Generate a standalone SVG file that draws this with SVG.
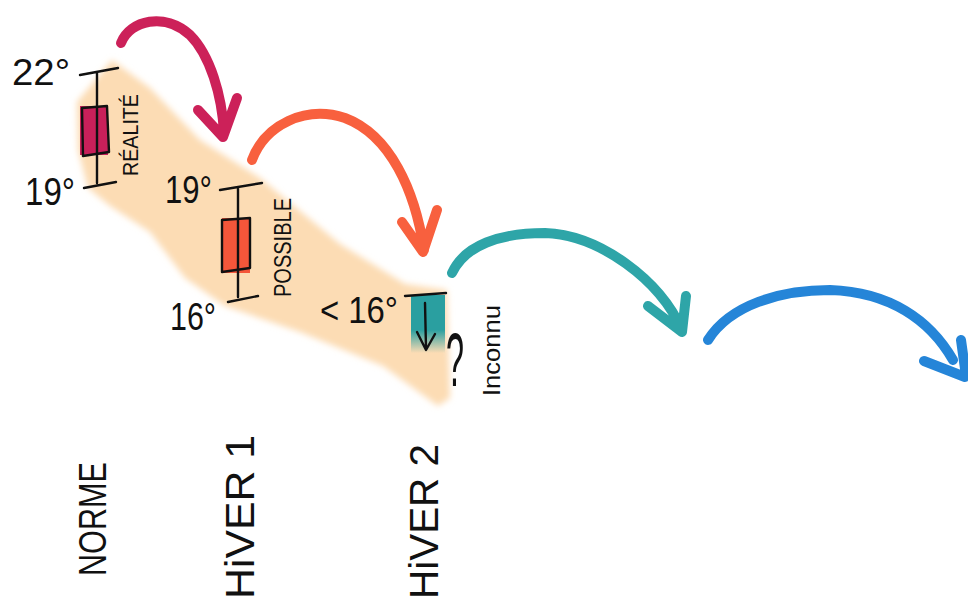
<svg xmlns="http://www.w3.org/2000/svg" width="968" height="601" viewBox="0 0 968 601">
<defs>
<style>
.t{font-family:"Liberation Sans","DejaVu Sans",sans-serif;fill:#111;}
.ink{fill:none;stroke:#111;stroke-width:2.4;stroke-linecap:round;stroke-linejoin:round;}
.arr{fill:none;stroke-width:10;stroke-linecap:round;stroke-linejoin:round;}
</style>
<filter id="soft" x="-10%" y="-10%" width="120%" height="120%"><feGaussianBlur stdDeviation="3"/></filter>
<linearGradient id="tealfade" x1="0" y1="0" x2="0" y2="1">
<stop offset="0" stop-color="#2a9fa0"/>
<stop offset="0.6" stop-color="#2a9fa0"/>
<stop offset="1" stop-color="#2a9fa0" stop-opacity="0"/>
</linearGradient>
</defs>
<rect width="968" height="601" fill="#ffffff"/>
<path d="M112,60 L150,88 L200,140 L260,178 L340,244 L405,284 L447,290 L450,398 L438,406 L383,366 L300,332 L225,306 L185,278 L150,232 L110,206 L88,188 L78,150 L77,102 Z" fill="#fcdcb4" filter="url(#soft)"/>
<g id="norme">
<rect x="80" y="106" width="28" height="49" fill="#c8205a"/>
<path class="ink" d="M82,108 L107,106 L109,152 L83,156 Z"/>
<path class="ink" d="M97,73 L97,183 M80,75 L118,68 M84,188 L116,182"/>
<text class="t" x="12" y="85" font-size="36" textLength="58" lengthAdjust="spacingAndGlyphs">22°</text>
<text class="t" x="25" y="205" font-size="38" textLength="50" lengthAdjust="spacingAndGlyphs">19°</text>
<text class="t" transform="rotate(-90 138 176)" x="138" y="176" font-size="22" textLength="82" lengthAdjust="spacingAndGlyphs">RÉALITÉ</text>
<text class="t" transform="rotate(-90 106 576)" x="106" y="576" font-size="38" textLength="114" lengthAdjust="spacingAndGlyphs">NORME</text>
</g>
<g id="hiver1">
<rect x="222" y="218" width="28" height="55" fill="#f4563a"/>
<path class="ink" d="M222,220 L250,218 L250,268 L222,272 Z"/>
<path class="ink" d="M238,188 L238,297 M220,190 L262,183 M228,302 L258,296"/>
<text class="t" x="165" y="203" font-size="38" textLength="47" lengthAdjust="spacingAndGlyphs">19°</text>
<text class="t" x="170" y="330" font-size="38" textLength="46" lengthAdjust="spacingAndGlyphs">16°</text>
<text class="t" transform="rotate(-90 291 297)" x="291" y="297" font-size="24" textLength="99" lengthAdjust="spacingAndGlyphs">POSSIBLE</text>
<text class="t" transform="rotate(-90 254 599)" x="254" y="599" font-size="40" textLength="164" lengthAdjust="spacingAndGlyphs">HiVER 1</text>
</g>
<g id="hiver2">
<rect x="411" y="295" width="34" height="58" fill="url(#tealfade)"/>
<path class="ink" d="M405,296 L446,293"/>
<path class="ink" d="M425,303 L426,348 M417,332 L426,350 L435,334"/>
<text class="t" x="320" y="323" font-size="36" textLength="78" lengthAdjust="spacingAndGlyphs">&lt; 16°</text>
<text class="t" x="446" y="386" font-size="76" textLength="18" lengthAdjust="spacingAndGlyphs">?</text>
<text class="t" transform="rotate(-90 500 396)" x="500" y="396" font-size="24" textLength="91" lengthAdjust="spacingAndGlyphs">Inconnu</text>
<text class="t" transform="rotate(-90 438 599)" x="438" y="599" font-size="40" textLength="155" lengthAdjust="spacingAndGlyphs">HiVER 2</text>
</g>
<g id="connectors">
<path class="arr" stroke="#cc2159" d="M121,43 C130,20 165,12 190,35 C210,55 222,95 224,133 M198,110 L223,137 L237,98"/>
<path class="arr" stroke="#f8603e" d="M252,160 C265,125 305,105 345,118 C390,135 415,190 424,250 M402,222 L423,252 L437,210"/>
<path class="arr" stroke="#2ea5a8" d="M452,273 C465,245 500,233 545,233 C600,235 660,280 682,330 M648,306 L682,332 L686,296"/>
<path class="arr" stroke="#2585d8" d="M708,340 C730,305 780,290 830,290 C890,292 930,320 953,360 M924,361 L965,377 M961,340 L966,376"/>
</g>
</svg>
